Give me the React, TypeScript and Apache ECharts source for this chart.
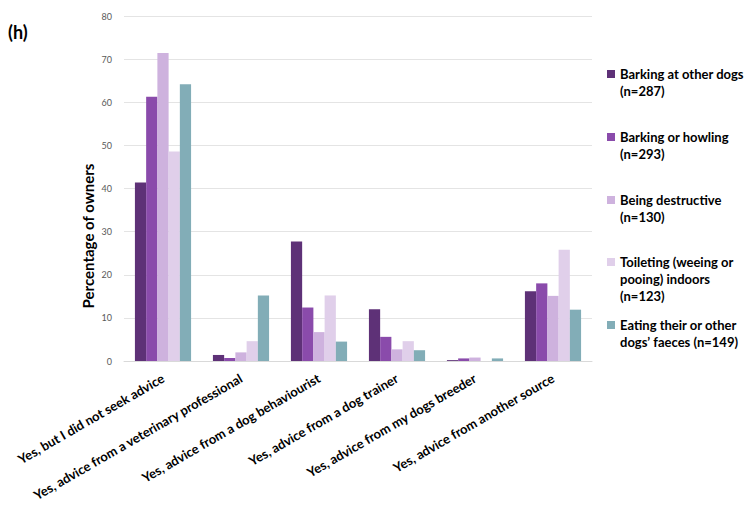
import React, { useEffect, useRef } from "react";
import * as echarts from "echarts";

const categories = [
  "Yes, but I did not seek advice",
  "Yes, advice from a veterinary professional",
  "Yes, advice from a dog behaviourist",
  "Yes, advice from a dog trainer",
  "Yes, advice from my dogs breeder",
  "Yes, advice from another source",
];

const seriesNames = [
  "Barking at other dogs (n=287)",
  "Barking or howling (n=293)",
  "Being destructive (n=130)",
  "Toileting (weeing or pooing) indoors (n=123)",
  "Eating their or other dogs’ faeces (n=149)",
];

const legendLines = [
  ["Barking at other dogs", "(n=287)"],
  ["Barking or howling", "(n=293)"],
  ["Being destructive", "(n=130)"],
  ["Toileting (weeing or", "pooing) indoors", "(n=123)"],
  ["Eating their or other", "dogs’ faeces (n=149)"],
];

const barkingAtDogs = [41.4, 1.4, 27.7, 12.0, 0.2, 16.2];
const barkingHowling = [61.3, 0.7, 12.4, 5.6, 0.6, 18.0];
const destructive = [71.4, 2.0, 6.7, 2.7, 0.8, 15.1];
const toileting = [48.6, 4.6, 15.2, 4.6, 0, 25.8];
const eatingFaeces = [64.2, 15.2, 4.5, 2.5, 0.6, 11.9];

const seriesData = [barkingAtDogs, barkingHowling, destructive, toileting, eatingFaeces];
const colors = ["#5e3177", "#8a4bab", "#ceb2de", "#e0cfea", "#82adb7"];
const yTicks = { min: 0, max: 80, interval: 10 };

const FONT = "Lato";

export default function App() {
  const ref = useRef<HTMLDivElement>(null);
  useEffect(() => {
    if (!ref.current) return;
    const chart = echarts.init(ref.current, null, { renderer: "svg" });
    const legendTops = [74, 137, 200, 262, 325];
    const legendGraphics: any[] = [];
    legendLines.forEach((lines, i) => {
      legendGraphics.push({
        type: "rect",
        left: 607,
        top: legendTops[i] - 4,
        shape: { width: 8, height: 8 },
        style: { fill: colors[i] },
      });
      legendGraphics.push({
        type: "text",
        left: 620,
        top: legendTops[i] - 9,
        style: {
          text: lines.join("\n"),
          font: `bold 13px ${FONT}`,
          lineHeight: 17,
          fill: "#000",
        },
      });
    });
    chart.setOption({
      animation: false,
      color: colors,
      grid: { left: 124, right: 156, top: 16, bottom: 154, containLabel: false },
      xAxis: {
        type: "category",
        data: categories,
        axisLine: { lineStyle: { color: "#d9d9d9" } },
        axisTick: { show: false },
        axisLabel: {
          rotate: 30,
          interval: 0,
          margin: 16,
          fontFamily: FONT,
          fontWeight: "bold",
          fontSize: 13,
          color: "#000",
        },
      },
      yAxis: {
        type: "value",
        min: yTicks.min,
        max: yTicks.max,
        interval: yTicks.interval,
        axisLine: { show: false },
        axisTick: { show: false },
        splitLine: { lineStyle: { color: "#e4e4e4" } },
        axisLabel: { fontFamily: FONT, fontSize: 9, color: "#595959", margin: 12 },
      },
      legend: { show: false },
      series: seriesData.map((d, i) => ({
        type: "bar",
        name: seriesNames[i],
        data: d,
        barGap: "0%",
        barCategoryGap: "28%",
      })),
      graphic: [
        {
          type: "text",
          left: 8,
          top: 23,
          style: { text: "(h)", font: `bold 18px ${FONT}`, fill: "#000" },
        },
        {
          type: "text",
          x: 88,
          y: 236,
          rotation: Math.PI / 2,
          style: {
            text: "Percentage of owners",
            font: `bold 15px ${FONT}`,
            fill: "#000",
            align: "center",
            verticalAlign: "middle",
          },
        },
        ...legendGraphics,
      ],
    });
    return () => chart.dispose();
  }, []);
  return <div ref={ref} style={{ width: 748, height: 515, position: "absolute", left: 0, top: 0 }} />;
}
